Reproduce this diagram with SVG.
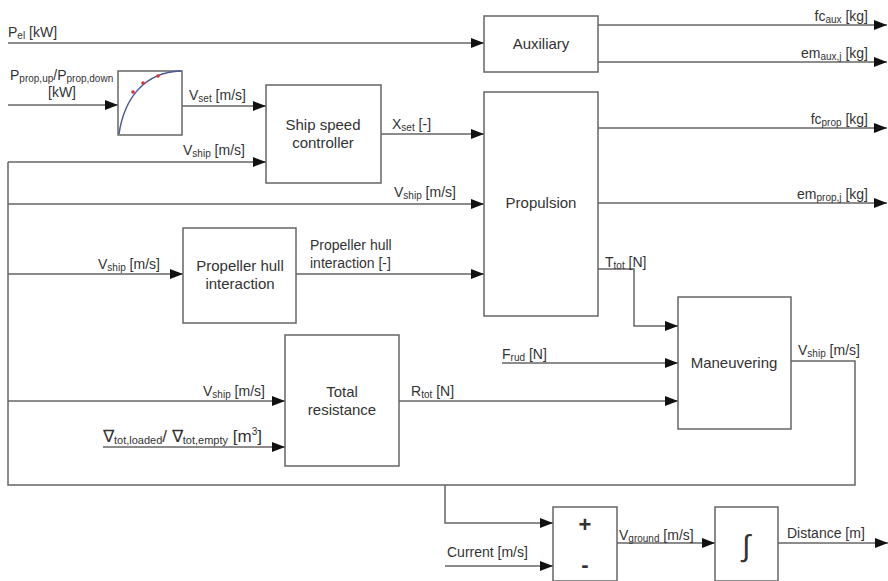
<svg xmlns="http://www.w3.org/2000/svg" width="888" height="581" viewBox="0 0 888 581">
<defs>
<marker id="ah" markerWidth="13" markerHeight="10" refX="13" refY="5" orient="auto" markerUnits="userSpaceOnUse">
<path d="M0,0 L13,5 L0,10 z" fill="#111"/>
</marker>
<style>
.box{fill:#fff;stroke:#666;stroke-width:1.5}
.ln{fill:none;stroke:#666;stroke-width:1.5}
.ar{fill:none;stroke:#666;stroke-width:1.5;marker-end:url(#ah)}
text{font-family:"Liberation Sans",Arial,sans-serif;fill:#333;font-size:14px}
.bt{font-size:15px;text-anchor:middle}
.s{font-size:10px}
</style>
</defs>
<rect width="888" height="581" fill="#fff"/>
<g id="connectors">
<path class="ar" d="M8,43 H484"/>
<path class="ar" d="M598,25 H887"/>
<path class="ar" d="M598,62 H887"/>
<path class="ar" d="M598,128 H887"/>
<path class="ar" d="M598,203 H887"/>
<path class="ar" d="M8,105 H118"/>
<path class="ar" d="M182,106 H266"/>
<path class="ar" d="M8,162 H266"/>
<path class="ar" d="M381,134 H484"/>
<path class="ar" d="M8,204 H484"/>
<path class="ar" d="M8,274 H183"/>
<path class="ar" d="M296,274 H484"/>
<path class="ar" d="M598,269 H634 V326 H678"/>
<path class="ar" d="M502,363 H678"/>
<path class="ar" d="M399,401 H678"/>
<path class="ar" d="M8,401 H285"/>
<path class="ar" d="M103,447 H285"/>
<path class="ln" d="M791,361 H855 V485 H8 V162"/>
<path class="ar" d="M445,485 V523 H553"/>
<path class="ar" d="M445,566 H553"/>
<path class="ar" d="M617,543 H715"/>
<path class="ar" d="M778,543 H888"/>
</g>
<g id="lookup">
<rect class="box" x="118" y="71" width="64" height="64"/>
<path d="M119,134 C124,100 143,72 181,71" fill="none" stroke="#4a5a9a" stroke-width="1.5"/>
<circle cx="133" cy="92" r="1.8" fill="#e03030"/>
<circle cx="143" cy="83" r="1.8" fill="#e03030"/>
<circle cx="158" cy="76" r="1.8" fill="#e03030"/>
</g>
<g id="auxiliary">
<rect class="box" x="484" y="16" width="114" height="56"/>
<text class="bt" x="541" y="49">Auxiliary</text>
</g>
<g id="speed-controller">
<rect class="box" x="266" y="85" width="115" height="98"/>
<text class="bt" x="323" y="130">Ship speed</text>
<text class="bt" x="323" y="148">controller</text>
</g>
<g id="propulsion">
<rect class="box" x="484" y="92" width="114" height="224"/>
<text class="bt" x="541" y="208">Propulsion</text>
</g>
<g id="prop-hull">
<rect class="box" x="183" y="228" width="113" height="95"/>
<text class="bt" x="240" y="271">Propeller hull</text>
<text class="bt" x="240" y="289">interaction</text>
</g>
<g id="maneuvering">
<rect class="box" x="678" y="297" width="113" height="132"/>
<text class="bt" x="734" y="368">Maneuvering</text>
</g>
<g id="total-resistance">
<rect class="box" x="285" y="335" width="114" height="131"/>
<text class="bt" x="342" y="397">Total</text>
<text class="bt" x="342" y="415">resistance</text>
</g>
<g id="sum">
<rect class="box" x="553" y="507" width="64" height="74"/>
<text x="585" y="532" text-anchor="middle" style="font-size:22px;font-weight:bold">+</text>
<text x="585" y="572" text-anchor="middle" style="font-size:22px;font-weight:bold">-</text>
</g>
<g id="integrator">
<rect class="box" x="715" y="507" width="63" height="74"/>
<text x="746" y="556" text-anchor="middle" style="font-size:30px">∫</text>
</g>
<g id="labels">
<text x="8" y="37">P<tspan class="s" dy="2">el</tspan><tspan dy="-2"> [kW]</tspan></text>
<text x="10" y="80">P<tspan class="s" dy="2">prop,up</tspan><tspan dy="-2">/P</tspan><tspan class="s" dy="2">prop,down</tspan></text>
<text x="62" y="97" text-anchor="middle">[kW]</text>
<text x="189" y="100">V<tspan class="s" dy="2">set</tspan><tspan dy="-2"> [m/s]</tspan></text>
<text x="392" y="129">X<tspan class="s" dy="2">set</tspan><tspan dy="-2"> [-]</tspan></text>
<text x="183" y="155">V<tspan class="s" dy="2">ship</tspan><tspan dy="-2"> [m/s]</tspan></text>
<text x="394" y="197">V<tspan class="s" dy="2">ship</tspan><tspan dy="-2"> [m/s]</tspan></text>
<text x="868" y="21" text-anchor="end">fc<tspan class="s" dy="2">aux</tspan><tspan dy="-2"> [kg]</tspan></text>
<text x="868" y="58" text-anchor="end">em<tspan class="s" dy="2">aux,j</tspan><tspan dy="-2"> [kg]</tspan></text>
<text x="868" y="124" text-anchor="end">fc<tspan class="s" dy="2">prop</tspan><tspan dy="-2"> [kg]</tspan></text>
<text x="868" y="199" text-anchor="end">em<tspan class="s" dy="2">prop,j</tspan><tspan dy="-2"> [kg]</tspan></text>
<text x="98" y="269">V<tspan class="s" dy="2">ship</tspan><tspan dy="-2"> [m/s]</tspan></text>
<text x="310" y="250">Propeller hull</text>
<text x="310" y="268">interaction [-]</text>
<text x="605" y="267">T<tspan class="s" dy="2">tot</tspan><tspan dy="-2"> [N]</tspan></text>
<text x="798" y="355">V<tspan class="s" dy="2">ship</tspan><tspan dy="-2"> [m/s]</tspan></text>
<text x="502" y="359">F<tspan class="s" dy="2">rud</tspan><tspan dy="-2"> [N]</tspan></text>
<text x="411" y="396">R<tspan class="s" dy="2">tot</tspan><tspan dy="-2"> [N]</tspan></text>
<text x="203" y="396">V<tspan class="s" dy="2">ship</tspan><tspan dy="-2"> [m/s]</tspan></text>
<text x="103" y="442" style="font-size:17px">∇<tspan style="font-size:11px" dy="2">tot,loaded</tspan><tspan dy="-2">/ ∇</tspan><tspan style="font-size:11px" dy="2">tot,empty</tspan><tspan dy="-2"> [m</tspan><tspan style="font-size:10px" dy="-7">3</tspan><tspan dy="7">]</tspan></text>
<text x="619" y="540">V<tspan class="s" dy="2">ground</tspan><tspan dy="-2"> [m/s]</tspan></text>
<text x="787" y="538">Distance [m]</text>
<text x="447" y="557">Current [m/s]</text>
</g>
</svg>
